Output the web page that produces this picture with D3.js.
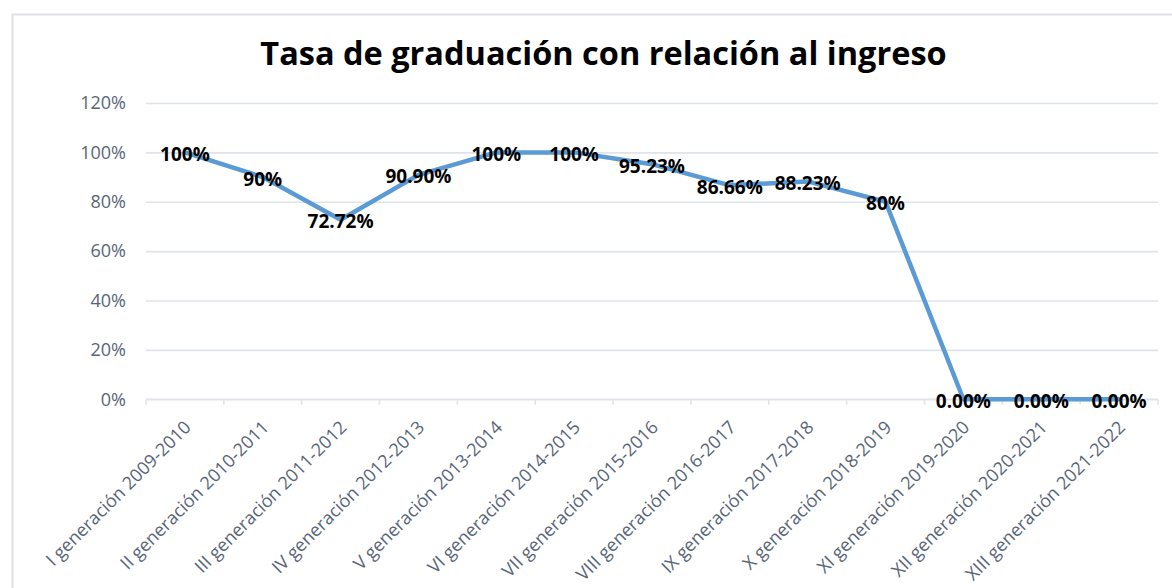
<!DOCTYPE html>
<html>
<head>
<meta charset="utf-8">
<script src="https://cdn.jsdelivr.net/npm/d3@7"></script>
<style>
  html, body { margin: 0; padding: 0; background: #ffffff; }
  svg { display: block; }
</style>
</head>
<body>
<svg id="chart" width="1172" height="588"></svg>
<script>
// Graduation rate per cohort (share of students who graduated relative to intake)
const categories = [
  "I generación 2009-2010",
  "II generación 2010-2011",
  "III generación 2011-2012",
  "IV generación 2012-2013",
  "V generación 2013-2014",
  "VI generación 2014-2015",
  "VII generación 2015-2016",
  "VIII generación 2016-2017",
  "IX generación 2017-2018",
  "X generación 2018-2019",
  "XI generación 2019-2020",
  "XII generación 2020-2021",
  "XIII generación 2021-2022"
];
const values = [1.00, 0.90, 0.7272, 0.9090, 1.00, 1.00, 0.9523, 0.8666, 0.8823, 0.80, 0, 0, 0];
const valueLabels = ["100%", "90%", "72.72%", "90.90%", "100%", "100%", "95.23%", "86.66%", "88.23%", "80%", "0.00%", "0.00%", "0.00%"];
const yTicks = [0, 0.2, 0.4, 0.6, 0.8, 1.0, 1.2];
const titleText = "Tasa de graduación con relación al ingreso";

const svg = d3.select("#chart");
const font = "'Open Sans', 'Liberation Sans', sans-serif";
const axisColor = "#586579";
const gridColor = "#dfe3ea";

const plot = { left: 146, right: 1158, top: 103, bottom: 399.3 };

// chart frame
svg.append("rect")
  .attr("x", 12.5).attr("y", 14.5)
  .attr("width", 1200).attr("height", 600)
  .attr("fill", "#ffffff")
  .attr("stroke", "#dde1e7").attr("stroke-width", 2);

// title
svg.append("text")
  .attr("x", 603.5).attr("y", 65)
  .attr("text-anchor", "middle")
  .attr("font-family", font)
  .attr("font-weight", 700)
  .attr("font-size", 32.5)
  .attr("fill", "#000000")
  .text(titleText);

const x = d3.scaleBand().domain(categories).range([plot.left, plot.right]).padding(0);
const y = d3.scaleLinear().domain([0, 1.2]).range([plot.bottom, plot.top]);

// horizontal gridlines + y labels
const yAxis = d3.axisLeft(y).tickValues(yTicks).tickFormat(d3.format(".0%"))
  .tickSize(-(plot.right - plot.left)).tickPadding(20);
const gy = svg.append("g").attr("transform", `translate(${plot.left},0)`).call(yAxis);
gy.select(".domain").remove();
gy.selectAll(".tick line").attr("stroke", gridColor).attr("stroke-width", 1.6);
gy.selectAll(".tick text")
  .attr("fill", axisColor)
  .attr("font-family", font)
  .attr("font-size", 18)
  .attr("x", -20);

// category axis: baseline and boundary ticks
const gx = svg.append("g").attr("transform", `translate(0,${plot.bottom})`);
gx.append("line")
  .attr("x1", plot.left).attr("x2", plot.right)
  .attr("stroke", gridColor).attr("stroke-width", 1.6);
const boundaries = categories.map(c => x(c)).concat([plot.right]);
gx.selectAll("line.tk").data(boundaries).join("line")
  .attr("class", "tk")
  .attr("x1", d => d).attr("x2", d => d)
  .attr("y1", 0).attr("y2", 5.5)
  .attr("stroke", gridColor).attr("stroke-width", 1.6);

// rotated category labels
svg.append("g").selectAll("text").data(categories).join("text")
  .attr("transform", d => `translate(${x(d) + x.bandwidth() / 2 - 2},${plot.bottom + 20}) rotate(-45)`)
  .attr("text-anchor", "end")
  .attr("dy", "0.72em")
  .attr("font-family", font)
  .attr("font-size", 18)
  .attr("fill", axisColor)
  .text(d => d);

// series line
const line = d3.line()
  .x((d, i) => x(categories[i]) + x.bandwidth() / 2)
  .y(d => y(d));
svg.append("path")
  .datum(values)
  .attr("d", line)
  .attr("fill", "none")
  .attr("stroke", "#5b9bd5")
  .attr("stroke-width", 4.5)
  .attr("stroke-linejoin", "round")
  .attr("stroke-linecap", "round");

// value labels centred on each point
svg.append("g").selectAll("text").data(values).join("text")
  .attr("x", (d, i) => x(categories[i]) + x.bandwidth() / 2)
  .attr("y", d => y(d) + 1.5)
  .attr("text-anchor", "middle")
  .attr("dominant-baseline", "central")
  .attr("font-family", font)
  .attr("font-weight", 700)
  .attr("font-size", 19)
  .attr("fill", "#000000")
  .text((d, i) => valueLabels[i]);
</script>
</body>
</html>
